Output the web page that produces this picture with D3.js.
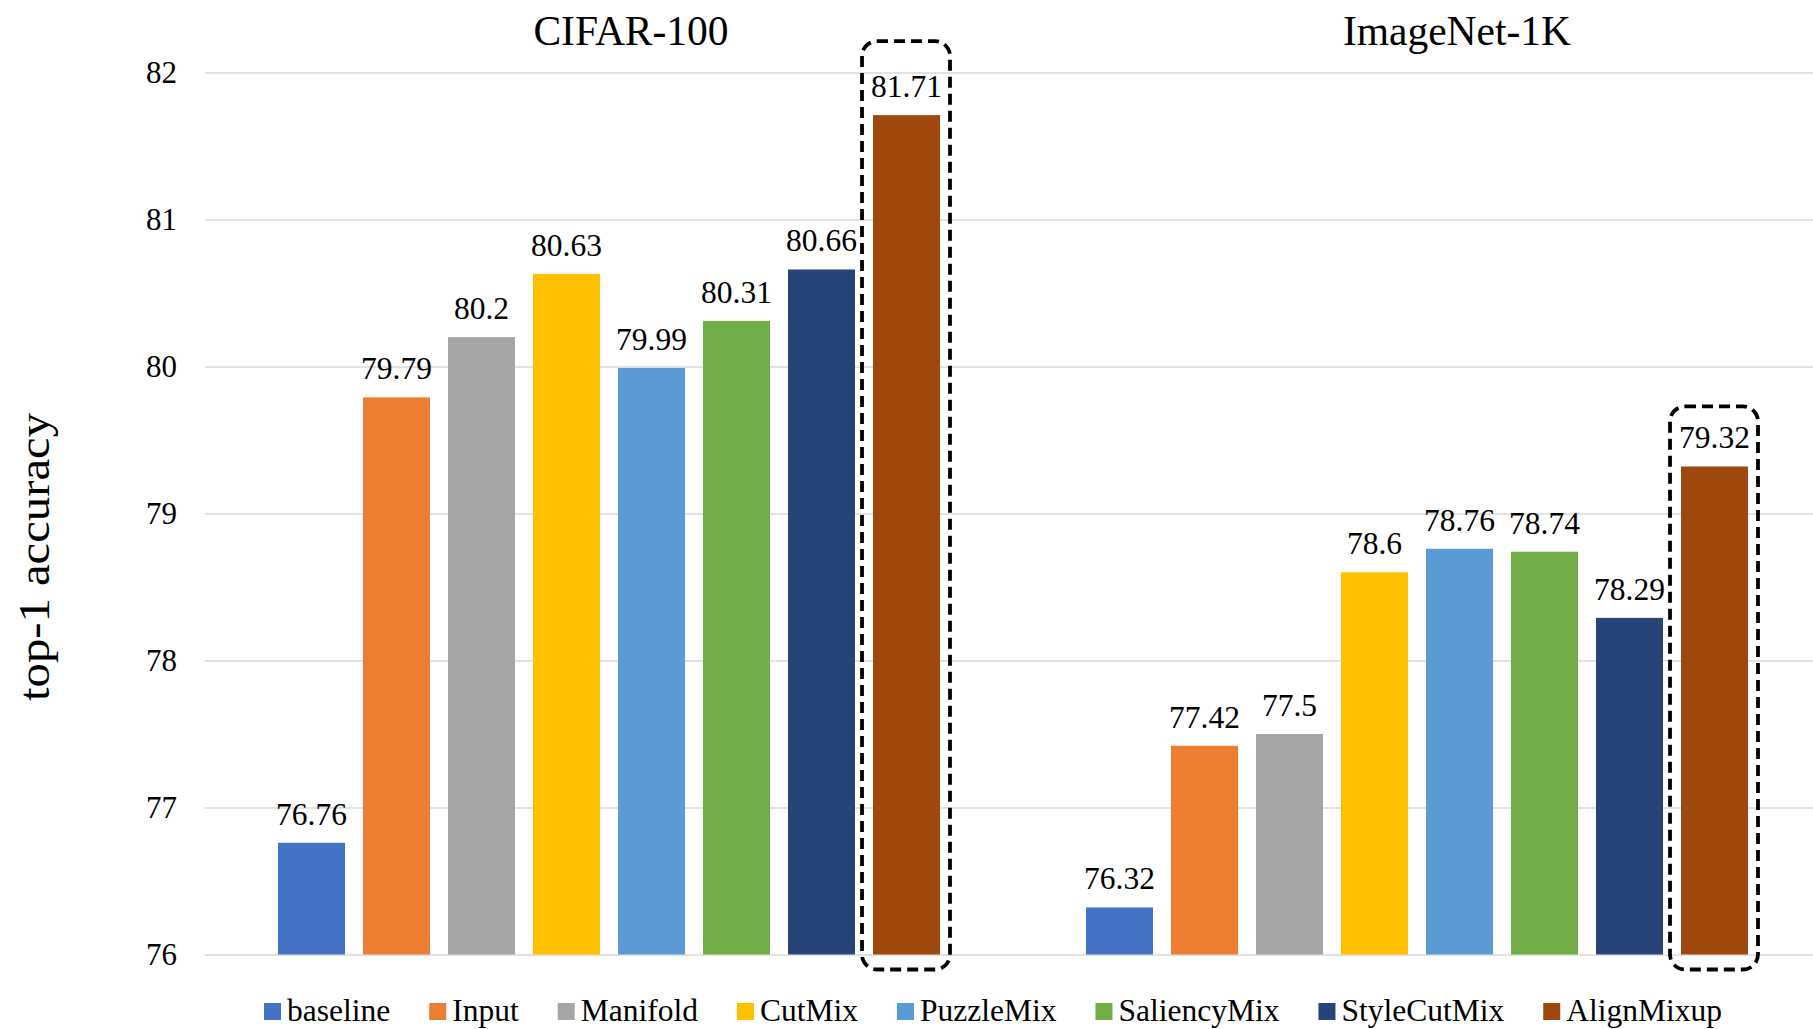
<!DOCTYPE html>
<html>
<head>
<meta charset="utf-8">
<script src="https://cdn.jsdelivr.net/npm/d3@7"></script>
<style>
  html, body { margin: 0; padding: 0; background: #fff; }
  svg { display: block; }
  text { font-family: "Liberation Serif", "Times New Roman", serif; fill: #000; }
</style>
</head>
<body>
<svg id="chart" width="1813" height="1029"></svg>
<script>
// Top-1 accuracy of mixup variants on two benchmarks
const datasets = ["CIFAR-100", "ImageNet-1K"];
const methods = ["baseline", "Input", "Manifold", "CutMix", "PuzzleMix", "SaliencyMix", "StyleCutMix", "AlignMixup"];
const cifarValues = [76.76, 79.79, 80.2, 80.63, 79.99, 80.31, 80.66, 81.71];
const imagenetValues = [76.32, 77.42, 77.5, 78.6, 78.76, 78.74, 78.29, 79.32];
const yTicks = [76, 77, 78, 79, 80, 81, 82];
const highlighted = "AlignMixup";

const colors = ["#4472C4", "#ED7D31", "#A5A5A5", "#FFC000", "#5B9BD5", "#70AD47", "#264478", "#9E480E"];

const valuesByDataset = [cifarValues, imagenetValues];

const W = 1813, H = 1029;
const plot = { left: 205, right: 1821, top: 72.5, bottom: 954.5 };
const serif = "'Liberation Serif', 'Times New Roman', serif";

const svg = d3.select("#chart");

const y = d3.scaleLinear().domain([76, 82]).range([plot.bottom, plot.top]);
const x0 = d3.scaleBand().domain(datasets).range([plot.left, plot.right]).padding(0);
const groupInset = 73;
const x1 = d3.scaleBand().domain(methods)
  .range([groupInset, x0.bandwidth() - groupInset])
  .paddingInner(0.212).paddingOuter(0);
const color = d3.scaleOrdinal().domain(methods).range(colors);

// horizontal gridlines with tick labels
const yAxis = d3.axisLeft(y).tickValues(yTicks).tickSize(-(W - plot.left)).tickPadding(28).tickFormat(d3.format("d"));
const gAxis = svg.append("g").attr("transform", `translate(${plot.left},0)`).call(yAxis);
gAxis.attr("font-family", serif);
gAxis.select(".domain").remove();
gAxis.selectAll(".tick line").attr("stroke", "#d9d9d9").attr("stroke-width", 1.6);
gAxis.selectAll(".tick text")
  .attr("font-size", 31)
  .attr("fill", "#000")
  .style("font-family", serif);

// y axis title
svg.append("text")
  .attr("transform", `translate(49,557) rotate(-90)`)
  .attr("text-anchor", "middle")
  .attr("font-size", 44)
  .attr("textLength", 288)
  .attr("lengthAdjust", "spacingAndGlyphs")
  .text("top-1 accuracy");

// dataset titles
const titleShift = [22, 40];
svg.selectAll(".ds-title").data(datasets).join("text")
  .attr("class", "ds-title")
  .attr("x", (d, i) => x0(d) + x0.bandwidth() / 2 + titleShift[i])
  .attr("y", 45)
  .attr("text-anchor", "middle")
  .attr("font-size", 41.5)
  .text(d => d);

// bars and value labels
const groups = svg.selectAll(".group").data(datasets).join("g")
  .attr("class", "group")
  .attr("transform", d => `translate(${x0(d)},0)`);

groups.each(function(ds, gi) {
  const g = d3.select(this);
  const rows = methods.map((m, i) => ({ method: m, value: valuesByDataset[gi][i] }));

  g.selectAll("rect.bar").data(rows).join("rect")
    .attr("class", "bar")
    .attr("x", d => x1(d.method))
    .attr("y", d => y(d.value))
    .attr("width", x1.bandwidth())
    .attr("height", d => y(76) - y(d.value))
    .attr("fill", d => color(d.method));

  g.selectAll("text.val").data(rows).join("text")
    .attr("class", "val")
    .attr("x", d => x1(d.method) + x1.bandwidth() / 2)
    .attr("y", d => y(d.value) - 18)
    .attr("text-anchor", "middle")
    .attr("font-size", 31.5)
    .text(d => String(d.value));

  // dashed highlight frame around the best method
  const boxTopPad = [74, 60][gi];
  const v = valuesByDataset[gi][methods.indexOf(highlighted)];
  const bx = x1(highlighted) - 11;
  const bw = x1.bandwidth() + 21;
  const by = y(v) - boxTopPad;
  const bh = (plot.bottom + 15) - by;
  g.append("rect")
    .attr("x", bx).attr("y", by)
    .attr("width", bw).attr("height", bh)
    .attr("rx", 15).attr("ry", 15)
    .attr("fill", "none")
    .attr("stroke", "#000")
    .attr("stroke-width", 3.8)
    .attr("stroke-dasharray", "11,6");
});

// legend
const legend = svg.append("g");
const items = legend.selectAll("g").data(methods).join("g");
items.append("rect")
  .attr("width", 17).attr("height", 17)
  .attr("y", 1003)
  .attr("fill", d => color(d));
items.append("text")
  .attr("x", 23)
  .attr("y", 1021)
  .attr("font-size", 31.5)
  .text(d => d);

const itemGap = 39;
let cursor = 0;
items.each(function() {
  const it = d3.select(this);
  const w = 23 + it.select("text").node().getComputedTextLength();
  it.attr("data-x", cursor);
  cursor += w + itemGap;
});
const totalW = cursor - itemGap;
const legendCenter = 993;
const startX = legendCenter - totalW / 2;
items.attr("transform", function() {
  return `translate(${startX + (+this.getAttribute("data-x"))},0)`;
});
</script>
</body>
</html>
